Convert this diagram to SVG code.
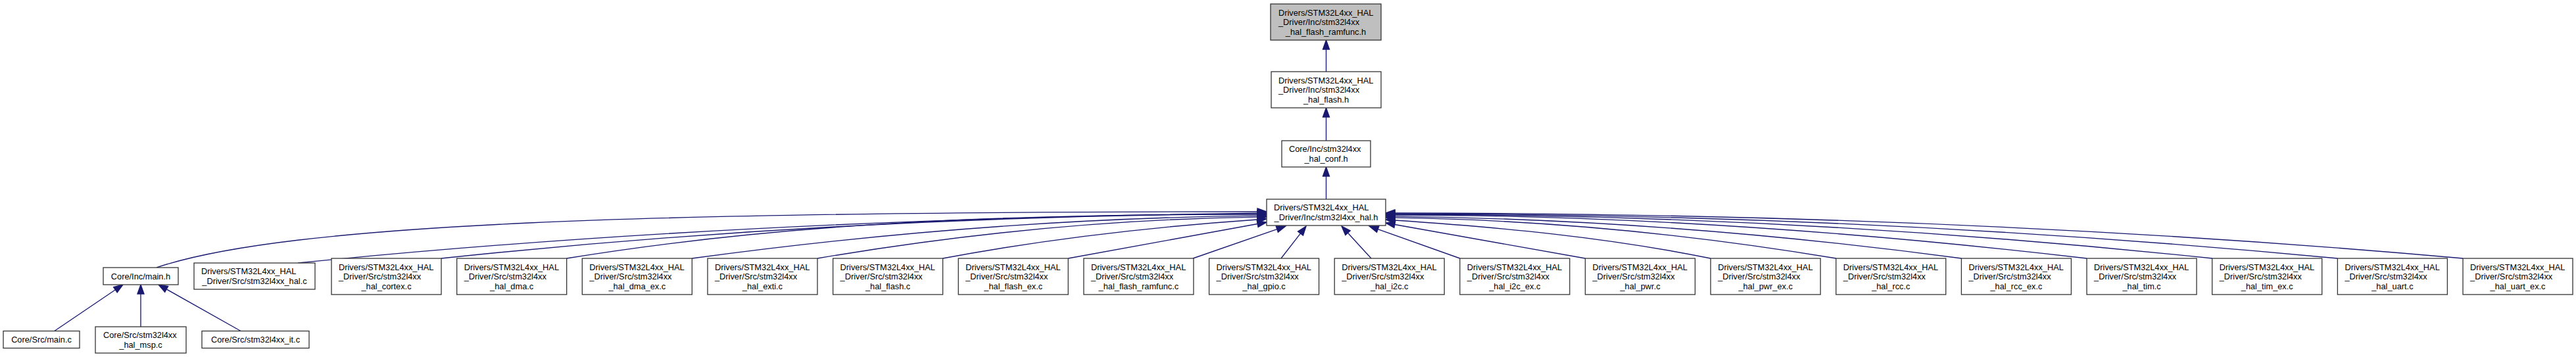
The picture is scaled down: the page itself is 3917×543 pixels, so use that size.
<svg xmlns="http://www.w3.org/2000/svg" width="3917" height="543" viewBox="0 0 3917 543">
<style>
.node rect{fill:#ffffff;stroke:#333333;stroke-width:1.3}
.node rect.hl{fill:#bfbfbf}
.node text{font-family:'Liberation Sans',Arial,Helvetica,sans-serif;font-size:12.8px;fill:#000000}
.node text.m{text-anchor:middle}
.edges path{fill:none;stroke:#191970;stroke-width:1.35}
.edges polygon{fill:#191970;stroke:#191970;stroke-width:1.35}
</style>
<rect x="0" y="0" width="3917" height="543" fill="#ffffff"/>
<g class="edges" id="edges">
<path d="M2016.5,109 L2016.5,75"/><polygon points="2011.5,75 2016.5,61 2021.5,75"/>
<path d="M2016.5,214 L2016.5,178"/><polygon points="2011.5,178 2016.5,164 2021.5,178"/>
<path d="M2016.5,303 L2016.5,268"/><polygon points="2011.5,268 2016.5,254 2021.5,268"/>
<path d="M238,407 C439,339 991,322 1912,322"/><polygon points="1912,317 1926,322 1912,327"/>
<path d="M453,400 C939,351 1426,330 1912,324.2"/><polygon points="1912,319.2 1926,324 1912,329.2"/>
<path d="M671,393 C1085,349 1498,328 1912,325.1"/><polygon points="1912,320.1 1926,325 1912,330.1"/>
<path d="M861.6,393 C1211,336 1562,326 1912,326"/><polygon points="1912,321 1926,326 1912,331"/>
<path d="M1052.3,393 C1339,354 1625,331.3 1912,328.2"/><polygon points="1912,323.2 1926,328 1912,333.2"/>
<path d="M1243,393 C1466,355.2 1689,333.2 1912,330.2"/><polygon points="1912,325.2 1926,330 1912,335.2"/>
<path d="M1433.6,393 C1593,363 1752,345 1912,334"/><polygon points="1912.4,339 1926,333 1911.7,329"/>
<path d="M1624.3,393 L1912.2,340.5"/><polygon points="1913.1,345.4 1926,338 1911.3,335.6"/>
<path d="M1814,393 L1941.8,348.6"/><polygon points="1943.4,353.3 1955,344 1940.2,343.9"/>
<path d="M1948,393 L1977.4,355.1"/><polygon points="1981.4,358.2 1986,344 1973.5,352"/>
<path d="M2085,393 L2049.5,354.3"/><polygon points="2053.2,350.9 2040,344 2045.8,357.7"/>
<path d="M2220,393 L2095.2,348.7"/><polygon points="2096.9,344 2082,344 2093.5,353.4"/>
<path d="M2410.5,393 L2120.8,341.5"/><polygon points="2121.7,336.6 2107,339 2119.9,346.4"/>
<path d="M2601,393 C2441,360.5 2281,345.8 2121,335"/><polygon points="2121.3,330 2107,334 2120.7,339.9"/>
<path d="M2792,393 C2568,355.8 2345,334.1 2121,331.2"/><polygon points="2121,326.2 2107,331 2121,336.2"/>
<path d="M2982.5,393 C2695,354.6 2408,332.2 2121,329.2"/><polygon points="2121,324.2 2107,329 2121,334.2"/>
<path d="M3173,393 C2822,352.1 2472,327 2121,327"/><polygon points="2121,322 2107,327 2121,332"/>
<path d="M3364,393 C2949,349.5 2535,326 2121,326"/><polygon points="2121,321 2107,326 2121,331"/>
<path d="M3554.4,393 C3076,347.4 2599,325 2121,325"/><polygon points="2121,320 2107,325 2121,330"/>
<path d="M3745,393 C3204,344.7 2662,324 2121,324"/><polygon points="2121,319 2107,324 2121,329"/>
<path d="M82,504 L175.4,440.8"/><polygon points="178.2,444.9 187,433 172.6,436.7"/>
<path d="M214,497 L214,447"/><polygon points="209,447 214,433 219,447"/>
<path d="M367,504 L253.2,439.9"/><polygon points="255.7,435.5 241,433 250.7,444.3"/>
</g>
<g class="node" id="n_ramfunc_h"><rect class="hl" x="1932" y="6" width="168" height="55"/><text x="1944" y="23.5">Drivers/STM32L4xx_HAL</text><text x="1944" y="38">_Driver/Inc/stm32l4xx</text><text class="m" x="2016" y="52.5">_hal_flash_ramfunc.h</text></g>
<g class="node" id="n_flash_h"><rect x="1933" y="109" width="167" height="55"/><text x="1944" y="126.5">Drivers/STM32L4xx_HAL</text><text x="1944" y="141">_Driver/Inc/stm32l4xx</text><text class="m" x="2016.5" y="155.5">_hal_flash.h</text></g>
<g class="node" id="n_conf_h"><rect x="1949" y="214" width="135" height="40"/><text x="1960" y="231.3">Core/Inc/stm32l4xx</text><text class="m" x="2016.5" y="245.8">_hal_conf.h</text></g>
<g class="node" id="n_hal_h"><rect x="1926" y="303" width="181" height="40"/><text x="1937" y="320.3">Drivers/STM32L4xx_HAL</text><text class="m" x="2016.5" y="334.8">_Driver/Inc/stm32l4xx_hal.h</text></g>
<g class="node" id="n_main_h"><rect x="157" y="407" width="114" height="26"/><text class="m" x="214" y="424.5">Core/Inc/main.h</text></g>
<g class="node" id="n_hal_c"><rect x="295" y="400" width="184" height="40"/><text x="306" y="417.3">Drivers/STM32L4xx_HAL</text><text class="m" x="387" y="431.8">_Driver/Src/stm32l4xx_hal.c</text></g>
<g class="node" id="n_main_c"><rect x="5" y="503.5" width="116" height="26"/><text class="m" x="63" y="521">Core/Src/main.c</text></g>
<g class="node" id="n_msp_c"><rect x="145" y="497" width="138" height="40"/><text x="157" y="514.3">Core/Src/stm32l4xx</text><text class="m" x="214" y="528.8">_hal_msp.c</text></g>
<g class="node" id="n_it_c"><rect x="307" y="503.5" width="163" height="26"/><text class="m" x="388.5" y="521">Core/Src/stm32l4xx_it.c</text></g>
<g class="node" id="n_cortex"><rect x="504" y="393" width="167" height="55"/><text x="515" y="410.5">Drivers/STM32L4xx_HAL</text><text x="515" y="425">_Driver/Src/stm32l4xx</text><text class="m" x="587.5" y="439.5">_hal_cortex.c</text></g>
<g class="node" id="n_dma"><rect x="694.65" y="393" width="167" height="55"/><text x="705.65" y="410.5">Drivers/STM32L4xx_HAL</text><text x="705.65" y="425">_Driver/Src/stm32l4xx</text><text class="m" x="778.15" y="439.5">_hal_dma.c</text></g>
<g class="node" id="n_dma_ex"><rect x="885.3" y="393" width="167" height="55"/><text x="896.3" y="410.5">Drivers/STM32L4xx_HAL</text><text x="896.3" y="425">_Driver/Src/stm32l4xx</text><text class="m" x="968.8" y="439.5">_hal_dma_ex.c</text></g>
<g class="node" id="n_exti"><rect x="1075.95" y="393" width="167" height="55"/><text x="1086.95" y="410.5">Drivers/STM32L4xx_HAL</text><text x="1086.95" y="425">_Driver/Src/stm32l4xx</text><text class="m" x="1159.45" y="439.5">_hal_exti.c</text></g>
<g class="node" id="n_flash"><rect x="1266.6" y="393" width="167" height="55"/><text x="1277.6" y="410.5">Drivers/STM32L4xx_HAL</text><text x="1277.6" y="425">_Driver/Src/stm32l4xx</text><text class="m" x="1350.1" y="439.5">_hal_flash.c</text></g>
<g class="node" id="n_flash_ex"><rect x="1457.25" y="393" width="167" height="55"/><text x="1468.25" y="410.5">Drivers/STM32L4xx_HAL</text><text x="1468.25" y="425">_Driver/Src/stm32l4xx</text><text class="m" x="1540.75" y="439.5">_hal_flash_ex.c</text></g>
<g class="node" id="n_ramfunc_c"><rect x="1647.9" y="393" width="167" height="55"/><text x="1658.9" y="410.5">Drivers/STM32L4xx_HAL</text><text x="1658.9" y="425">_Driver/Src/stm32l4xx</text><text class="m" x="1731.4" y="439.5">_hal_flash_ramfunc.c</text></g>
<g class="node" id="n_gpio"><rect x="1838.55" y="393" width="167" height="55"/><text x="1849.55" y="410.5">Drivers/STM32L4xx_HAL</text><text x="1849.55" y="425">_Driver/Src/stm32l4xx</text><text class="m" x="1922.05" y="439.5">_hal_gpio.c</text></g>
<g class="node" id="n_i2c"><rect x="2029.2" y="393" width="167" height="55"/><text x="2040.2" y="410.5">Drivers/STM32L4xx_HAL</text><text x="2040.2" y="425">_Driver/Src/stm32l4xx</text><text class="m" x="2112.7" y="439.5">_hal_i2c.c</text></g>
<g class="node" id="n_i2c_ex"><rect x="2219.85" y="393" width="167" height="55"/><text x="2230.85" y="410.5">Drivers/STM32L4xx_HAL</text><text x="2230.85" y="425">_Driver/Src/stm32l4xx</text><text class="m" x="2303.35" y="439.5">_hal_i2c_ex.c</text></g>
<g class="node" id="n_pwr"><rect x="2410.5" y="393" width="167" height="55"/><text x="2421.5" y="410.5">Drivers/STM32L4xx_HAL</text><text x="2421.5" y="425">_Driver/Src/stm32l4xx</text><text class="m" x="2494" y="439.5">_hal_pwr.c</text></g>
<g class="node" id="n_pwr_ex"><rect x="2601.15" y="393" width="167" height="55"/><text x="2612.15" y="410.5">Drivers/STM32L4xx_HAL</text><text x="2612.15" y="425">_Driver/Src/stm32l4xx</text><text class="m" x="2684.65" y="439.5">_hal_pwr_ex.c</text></g>
<g class="node" id="n_rcc"><rect x="2791.8" y="393" width="167" height="55"/><text x="2802.8" y="410.5">Drivers/STM32L4xx_HAL</text><text x="2802.8" y="425">_Driver/Src/stm32l4xx</text><text class="m" x="2875.3" y="439.5">_hal_rcc.c</text></g>
<g class="node" id="n_rcc_ex"><rect x="2982.45" y="393" width="167" height="55"/><text x="2993.45" y="410.5">Drivers/STM32L4xx_HAL</text><text x="2993.45" y="425">_Driver/Src/stm32l4xx</text><text class="m" x="3065.95" y="439.5">_hal_rcc_ex.c</text></g>
<g class="node" id="n_tim"><rect x="3173.1" y="393" width="167" height="55"/><text x="3184.1" y="410.5">Drivers/STM32L4xx_HAL</text><text x="3184.1" y="425">_Driver/Src/stm32l4xx</text><text class="m" x="3256.6" y="439.5">_hal_tim.c</text></g>
<g class="node" id="n_tim_ex"><rect x="3363.75" y="393" width="167" height="55"/><text x="3374.75" y="410.5">Drivers/STM32L4xx_HAL</text><text x="3374.75" y="425">_Driver/Src/stm32l4xx</text><text class="m" x="3447.25" y="439.5">_hal_tim_ex.c</text></g>
<g class="node" id="n_uart"><rect x="3554.4" y="393" width="167" height="55"/><text x="3565.4" y="410.5">Drivers/STM32L4xx_HAL</text><text x="3565.4" y="425">_Driver/Src/stm32l4xx</text><text class="m" x="3637.9" y="439.5">_hal_uart.c</text></g>
<g class="node" id="n_uart_ex"><rect x="3745.05" y="393" width="167" height="55"/><text x="3756.05" y="410.5">Drivers/STM32L4xx_HAL</text><text x="3756.05" y="425">_Driver/Src/stm32l4xx</text><text class="m" x="3828.55" y="439.5">_hal_uart_ex.c</text></g>
</svg>
